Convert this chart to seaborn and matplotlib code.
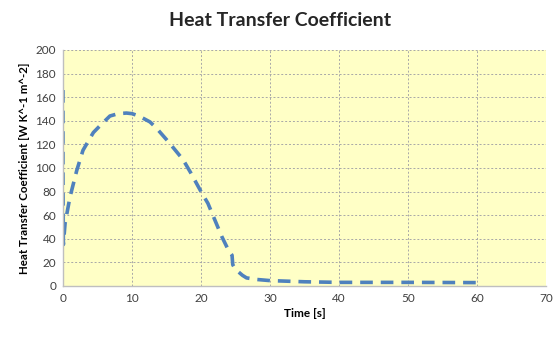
import matplotlib
matplotlib.use("Agg")
import matplotlib.pyplot as plt
import seaborn as sns
import pandas as pd

time_s = [0, 0, 0.05, 0.3, 1, 2, 2.9, 4.4, 5.4, 6.8, 8, 9.2, 10, 11, 12.6, 13.5, 15, 16, 17.4, 18.5, 19.9, 21, 22, 23, 24, 24.5, 24.6, 25, 26, 26.6, 28, 30, 35, 40, 50, 60, 60]
htc = [166, 100, 35, 53, 75, 98, 115, 130, 136, 144, 146, 146.5, 146, 144, 139, 134, 124, 117, 107, 96, 81, 70, 56, 42, 30, 26, 18, 14, 9, 6.8, 5.5, 4.5, 3.5, 3, 3, 2.8, 1.5]

df = pd.DataFrame({"Time [s]": time_s, "HTC": htc})

sns.set_theme(style="whitegrid")
plt.rcParams['font.family'] = ['Lato', 'DejaVu Sans']

fig = plt.figure(figsize=(5.6, 3.42), dpi=100)
ax = fig.add_axes([0.1125, 0.164, 0.8625, 0.69])
ax.set_facecolor("#FFFFC6")

sns.lineplot(data=df, x="Time [s]", y="HTC", ax=ax, sort=False, estimator=None,
             color="#4F81BD", linewidth=2.6, linestyle=(0, (3.5, 2.2)))

ax.set_xlim(0, 70)
ax.set_ylim(0, 200)
ax.set_xticks(range(0, 71, 10))
ax.set_yticks(range(0, 201, 20))
ax.grid(True, color="#A8A8A8", linestyle=(0, (2, 2)), linewidth=0.7)
for s in ["top", "right"]:
    ax.spines[s].set_visible(False)
for s in ["left", "bottom"]:
    ax.spines[s].set_color("#BFBFBF")
    ax.spines[s].set_linewidth(1.0)
ax.tick_params(axis="both", labelsize=8.5, colors="#404040", length=3, pad=2)
ax.tick_params(axis="both", which="both", direction="out", color="#BFBFBF")
ax.set_xlabel("Time [s]", fontsize=8.5, fontweight="bold", color="black", labelpad=3)
ax.set_ylabel("Heat Transfer Coefficient [W K^-1 m^-2]", fontsize=8.3, fontweight="bold", color="black", labelpad=4)
fig.suptitle("Heat Transfer Coefficient", x=0.5, y=0.965, fontsize=14, fontweight="bold")

fig.savefig("out.png", dpi=100)
